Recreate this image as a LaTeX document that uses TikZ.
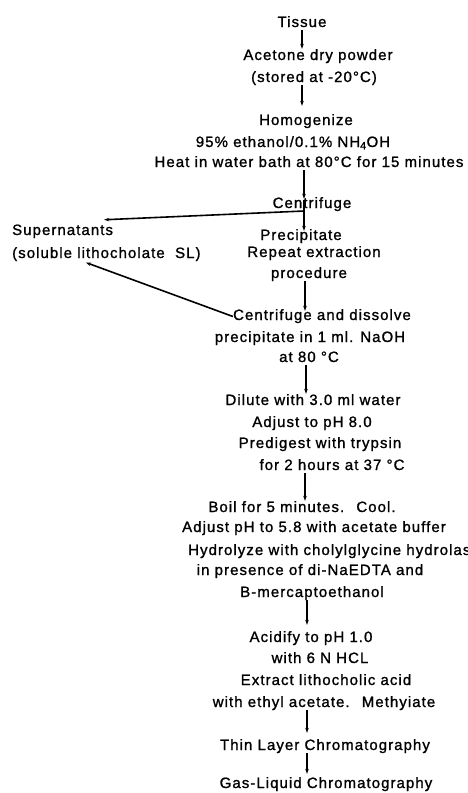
\documentclass[tikz,border=0pt]{standalone}
\usepackage{fontspec}
\setmainfont{Liberation Sans}[LetterSpace=7,FakeBold=1.2]
\usetikzlibrary{arrows.meta}
\begin{document}
\begin{tikzpicture}[x=1pt,y=-1pt,
 lbl/.style={anchor=base,inner sep=0pt,text height=10pt,text depth=3pt,font=\fontsize{15}{17}\selectfont},
 lbll/.style={lbl,anchor=base west},
 arr/.style={line width=1.3pt,-{Stealth[length=5pt,width=3.5pt]},shorten >=1pt}]
\useasboundingbox (0,0) rectangle (467,793);
\coordinate (ax) at (304,0);
\node[lbl] (tissue) at (302,27) {Tissue};
\node[lbl] (acetone) at (318,60) {Acetone dry powder};
\node[lbl] (stored) at (314,82) {(stored at -20°C)};
\node[lbl] (homog) at (306,125) {Homogenize};
\node[lbl] (ethanol) at (293,147) {95\% ethanol/0.1\% NH\textsubscript{4}OH};
\node[lbl] (heat) at (309,167) {Heat in water bath at 80°C for 15 minutes};
\node[lbl] (centr) at (312,208) {Centrifuge};
\node[lbll] (super) at (12,235) {Supernatants};
\node[lbll] (soluble) at (12,258) {(soluble lithocholate \ SL)};
\node[lbl] (precip) at (301,240) {Precipitate};
\node[lbl] (repeat) at (314,257) {Repeat extraction};
\node[lbl] (proc) at (309,278) {procedure};
\node[lbl] (cad) at (322,320) {Centrifuge and dissolve};
\node[lbl] (naoh) at (310,342) {precipitate in 1 ml. NaOH};
\node[lbl] (at80) at (309,362) {at 80 °C};
\node[lbl] (dilute) at (313,405) {Dilute with 3.0 ml water};
\node[lbl] (adj8) at (312,427) {Adjust to pH 8.0};
\node[lbl] (predig) at (320,448) {Predigest with trypsin};
\node[lbl] (hours) at (332,470) {for 2 hours at 37 °C};
\node[lbl] (boil) at (302,512) {Boil for 5 minutes. \ Cool.};
\node[lbl] (adj58) at (314,532) {Adjust pH to 5.8 with acetate buffer};
\node[lbll] (hydro) at (188,555) {Hydrolyze with cholylglycine hydrolase};
\node[lbl] (presence) at (310,575) {in presence of di-NaEDTA and};
\node[lbl] (merc) at (312,597) {B-mercaptoethanol};
\node[lbl] (acid) at (311,642) {Acidify to pH 1.0};
\node[lbl] (hcl) at (320,663) {with 6 N HCL};
\node[lbl] (extract) at (326,685) {Extract lithocholic acid};
\node[lbl] (ethyl) at (324,707) {with ethyl acetate. \ Methyiate};
\node[lbl] (tlc) at (325,750) {Thin Layer Chromatography};
\node[lbl] (glc) at (326,788) {Gas-Liquid Chromatography};
% main flow
\draw[arr] (tissue.south -| 302,0) -- (acetone.north -| 302,0);
\draw[arr] (stored.south -| 302,0) -- ([yshift=8pt]homog.north -| 302,0);
\draw[arr] (heat.south -| ax) -- ([yshift=-2pt]centr.north -| ax);
\draw[arr] ([yshift=-2pt]centr.north -| ax) -- ([yshift=-2pt]precip.north -| ax);
\coordinate (br) at (304,211);
\draw[arr,line width=1.6pt] (br) -- ([xshift=-10pt,yshift=5pt]super.north east);
\draw[arr,line width=1.6pt] (cad.west) -- ([xshift=73pt,yshift=-1pt]soluble.south west);
\draw[arr] (proc.south -| 305,0) -- ([yshift=-2pt]cad.north -| 305,0);
\draw[arr] (at80.south -| 306,0) -- (dilute.north -| 306,0);
\draw[arr] (hours.south -| 305,0) -- (boil.north -| 305,0);
\draw[arr] (merc.south -| 307,0) -- ([yshift=6pt]acid.north -| 307,0);
\draw[arr] (ethyl.south -| 307,0) -- ([yshift=6pt]tlc.north -| 307,0);
\draw[arr] (tlc.south -| 307,0) -- ([yshift=3pt]glc.north -| 307,0);
\end{tikzpicture}
\end{document}
